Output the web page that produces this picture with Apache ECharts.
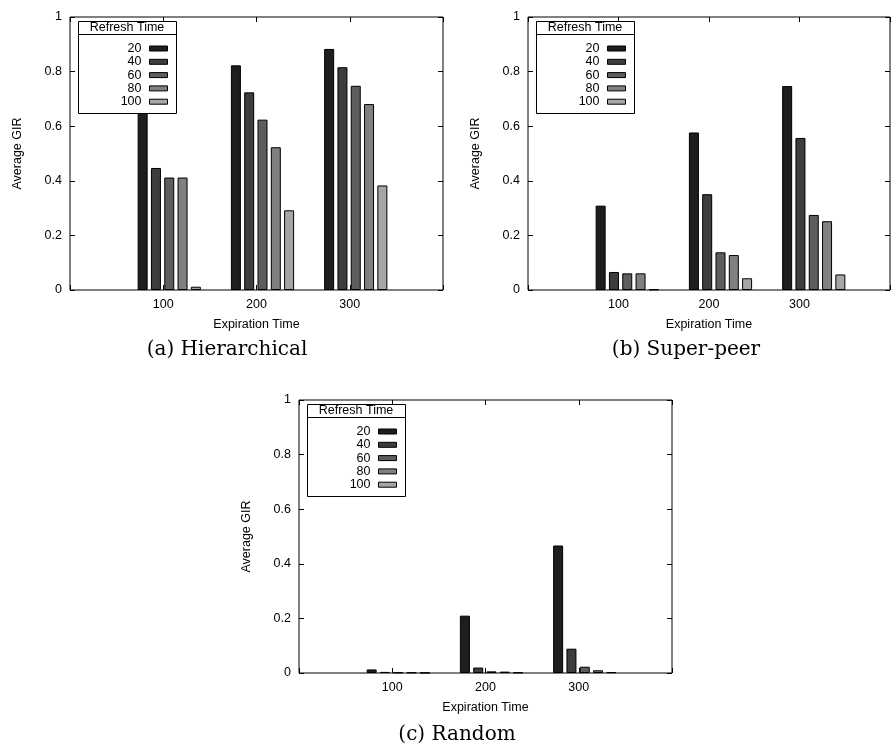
<!DOCTYPE html>
<html>
<head>
<meta charset="utf-8">
<title>Average GIR</title>
<script src="https://cdn.jsdelivr.net/npm/echarts@6/dist/echarts.min.js"></script>
<style>
  html, body { margin: 0; padding: 0; background: #fff; }
  #chart { width: 893px; height: 749px; }
</style>
</head>
<body>
<div id="chart"></div>
<script>
// x categories and one series per refresh time
const expiration = ['100', '200', '300'];
const refresh = ['20', '40', '60', '80', '100'];

// (a) Hierarchical, one row per refresh time
const hier20 = [0.70, 0.823, 0.883];
const hier40 = [0.447, 0.724, 0.816];
const hier60 = [0.412, 0.624, 0.748];
const hier80 = [0.412, 0.523, 0.681];
const hier100 = [0.012, 0.292, 0.383];

// (b) Super-peer
const sp20 = [0.309, 0.577, 0.747];
const sp40 = [0.066, 0.351, 0.557];
const sp60 = [0.061, 0.138, 0.275];
const sp80 = [0.061, 0.128, 0.252];
const sp100 = [0.002, 0.043, 0.057];

// (c) Random
const rnd20 = [0.013, 0.210, 0.467];
const rnd40 = [0.004, 0.020, 0.089];
const rnd60 = [0.002, 0.006, 0.023];
const rnd80 = [0.002, 0.005, 0.010];
const rnd100 = [0.001, 0.002, 0.003];

const panels = [
  { caption: '(a) Hierarchical', left: 70, top: 17, capX: 227, capY: 350,
    values: [hier20, hier40, hier60, hier80, hier100] },
  { caption: '(b) Super-peer', left: 528, top: 17, capX: 686, capY: 350,
    values: [sp20, sp40, sp60, sp80, sp100] },
  { caption: '(c) Random', left: 299, top: 400, capX: 457, capY: 735,
    values: [rnd20, rnd40, rnd60, rnd80, rnd100] }
];

const W = 373, H = 273;
const step = W / 4;   // x axis runs 0..400
const shift = 6;      // gnuplot puts the bar cluster a bit right of the tick
const barColors = ['#1e1e1e', '#3d3d3d', '#5e5e5e', '#808080', '#a6a6a6'];
const font = '"Liberation Sans", Arial, sans-serif';
const txt = { color: '#000', fontSize: 12.5, fontFamily: font };

const grid = [], xAxis = [], yAxis = [], series = [], legend = [], graphic = [];

panels.forEach(p => {
  const g = grid.length;
  // frame grid with the visible axes
  grid.push({ left: p.left, top: p.top, width: W, height: H, show: true,
    borderColor: '#000', borderWidth: 1, backgroundColor: 'transparent' });
  // grid holding the bars
  grid.push({ left: p.left + step / 2 + shift, top: p.top, width: step * 3, height: H });

  const tick = { show: true, inside: true, length: 5, lineStyle: { color: '#000' } };
  const noLine = { show: false, onZero: false };

  const xi = xAxis.length;
  xAxis.push({
    gridIndex: g, type: 'value', min: 0, max: 400, interval: 100, position: 'bottom',
    axisLine: noLine, axisTick: tick, splitLine: { show: false },
    axisLabel: Object.assign({ margin: 8, formatter: v => (v > 0 && v < 400 ? String(v) : '') }, txt),
    name: 'Expiration Time', nameLocation: 'middle', nameGap: 28, nameTextStyle: txt
  });
  xAxis.push({
    gridIndex: g, type: 'value', min: 0, max: 400, interval: 100, position: 'top',
    axisLine: noLine, axisTick: tick, axisLabel: { show: false }, splitLine: { show: false }
  });
  xAxis.push({ gridIndex: g + 1, type: 'category', data: expiration, show: false });

  const yi = yAxis.length;
  yAxis.push({
    gridIndex: g, type: 'value', min: 0, max: 1, interval: 0.2, position: 'left',
    axisLine: noLine, axisTick: tick, splitLine: { show: false },
    axisLabel: Object.assign({ margin: 8 }, txt),
    name: 'Average GIR', nameLocation: 'middle', nameGap: 46, nameTextStyle: txt
  });
  yAxis.push({
    gridIndex: g, type: 'value', min: 0, max: 1, interval: 0.2, position: 'right',
    axisLine: noLine, axisTick: tick, axisLabel: { show: false }, splitLine: { show: false }
  });
  yAxis.push({ gridIndex: g + 1, type: 'value', min: 0, max: 1, show: false });

  refresh.forEach((r, k) => {
    series.push({
      type: 'bar', name: r, xAxisIndex: xi + 2, yAxisIndex: yi + 2,
      data: p.values[k], barWidth: 10, barGap: '33%',
      itemStyle: { color: barColors[k], borderColor: '#000', borderWidth: 1 },
      silent: true
    });
  });

  // legend box with its header
  graphic.push({ type: 'rect', z: 10,
    shape: { x: p.left + 8.5, y: p.top + 4.5, width: 98, height: 92 },
    style: { fill: '#fff', stroke: '#000', lineWidth: 1 } });
  graphic.push({ type: 'line', z: 11,
    shape: { x1: p.left + 8.5, y1: p.top + 17.5, x2: p.left + 106.5, y2: p.top + 17.5 },
    style: { stroke: '#000', lineWidth: 1 } });
  graphic.push({ type: 'text', z: 11, x: p.left + 57, y: p.top + 11,
    style: { text: 'Refresh Time', font: '12.5px ' + font, fill: '#000',
      align: 'center', verticalAlign: 'middle' } });
  graphic.push({ type: 'text', x: p.capX, y: p.capY,
    style: { text: p.caption, font: '20px "DejaVu Serif", serif', fill: '#000',
      align: 'center', verticalAlign: 'middle' } });

  legend.push({
    data: refresh, orient: 'vertical', align: 'right',
    right: 893 - (p.left + 98), top: p.top + 25, padding: 0, itemGap: 0.3,
    itemWidth: 18, itemHeight: 5, icon: 'rect', selectedMode: false, z: 20,
    itemStyle: { borderColor: '#000', borderWidth: 1 },
    textStyle: Object.assign({ lineHeight: 13, padding: [0, 3, 0, 0] }, txt)
  });
});

const chart = echarts.init(document.getElementById('chart'));
chart.setOption({
  backgroundColor: '#fff',
  animation: false,
  grid, xAxis, yAxis, series, legend, graphic
});
window.addEventListener('resize', () => chart.resize());
</script>
</body>
</html>
